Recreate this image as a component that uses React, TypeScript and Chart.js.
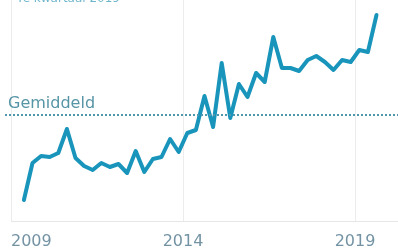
import React, { useEffect, useRef } from "react";
import { Chart, registerables } from "chart.js";

Chart.register(...registerables);

// Quarterly series, 2009 K2 .. 2019 K3
const quarters: string[] = [
  "2009 K2", "2009 K3", "2009 K4",
  "2010 K1", "2010 K2", "2010 K3", "2010 K4",
  "2011 K1", "2011 K2", "2011 K3", "2011 K4",
  "2012 K1", "2012 K2", "2012 K3", "2012 K4",
  "2013 K1", "2013 K2", "2013 K3", "2013 K4",
  "2014 K1", "2014 K2", "2014 K3", "2014 K4",
  "2015 K1", "2015 K2", "2015 K3", "2015 K4",
  "2016 K1", "2016 K2", "2016 K3", "2016 K4",
  "2017 K1", "2017 K2", "2017 K3", "2017 K4",
  "2018 K1", "2018 K2", "2018 K3", "2018 K4",
  "2019 K1", "2019 K2", "2019 K3",
];

const values: number[] = [
  10.5, 29, 32.5, 32, 34, 46, 31.5, 27.5, 25.5, 29, 27, 28.5, 24, 35, 24.5,
  31, 32, 41, 34.5, 44, 45.5, 62.5, 47, 79, 51.5, 68.5, 62, 74, 69.5, 92,
  76.5, 76.5, 75, 80.5, 82.5, 79.5, 75.5, 80.5, 79.5, 85.5, 84.5, 103,
];

const average = 53;
const averageLabel = "Gemiddeld";
const topTitle = "4e kwartaal 2019";
const yearTicks: number[] = [2009, 2014, 2019];
const xMin = 2009;
const xMax = 2020.25;
const yMin = 0;
const yMax = 110.5;

function quarterToX(q: string): number {
  const [y, k] = q.split(" K");
  return Number(y) + (Number(k) - 1) / 4 + 0.125;
}

export default function App() {
  const ref = useRef<HTMLCanvasElement | null>(null);

  useEffect(() => {
    if (!ref.current) return;
    const points = quarters.map((q, i) => ({ x: quarterToX(q), y: values[i] }));

    const overlay = {
      id: "overlay",
      afterDatasetsDraw(chart: any) {
        const ctx = chart.ctx;
        const ys = chart.scales.y;
        const yPix = ys.getPixelForValue(average);
        ctx.save();
        // dotted average line
        ctx.strokeStyle = "#4f97ad";
        ctx.lineWidth = 2;
        ctx.setLineDash([2, 2]);
        ctx.beginPath();
        ctx.moveTo(5, yPix);
        ctx.lineTo(chart.width, yPix);
        ctx.stroke();
        ctx.setLineDash([]);
        // average label
        ctx.fillStyle = "#5695a6";
        ctx.font = "16px 'DejaVu Sans'";
        ctx.textAlign = "left";
        ctx.textBaseline = "alphabetic";
        ctx.fillText(averageLabel, 8, yPix - 7);
        // clipped title at top
        ctx.fillStyle = "#6fb6cc";
        ctx.font = "12px 'DejaVu Sans'";
        ctx.fillText(topTitle, 15, 1.5);
        ctx.restore();
      },
    };

    const chart = new Chart(ref.current, {
      type: "line",
      data: {
        datasets: [
          {
            data: points,
            borderColor: "#1995bb",
            borderWidth: 4,
            pointRadius: 0,
            pointHoverRadius: 0,
            pointHitRadius: 0,
            pointBorderWidth: 0,
            tension: 0,
            borderJoinStyle: "round",
            borderCapStyle: "round",
            fill: false,
            clip: false,
          },
        ],
      },
      options: {
        animation: false,
        responsive: false,
        layout: { autoPadding: false, padding: { left: 11, right: 0, top: 0, bottom: 0 } },
        plugins: { legend: { display: false }, tooltip: { enabled: false } },
        scales: {
          x: {
            type: "linear",
            min: xMin,
            max: xMax,
            afterBuildTicks: (scale: any) => {
              scale.ticks = [...yearTicks, xMax].map((v) => ({ value: v }));
            },
            afterFit: (scale: any) => {
              scale.height = 31;
              scale.paddingLeft = 0;
              scale.paddingRight = 0;
            },
            ticks: {
              autoSkip: false,
              maxRotation: 0,
              align: "inner",
              padding: 11,
              color: "#7393a4",
              font: { family: "'DejaVu Sans'", size: 16 },
              callback: (v: any) => (yearTicks.includes(v) ? String(v) : ""),
            },
            grid: {
              color: (c: any) =>
                c.tick && yearTicks.includes(c.tick.value) ? "#ececec" : "rgba(0,0,0,0)",
              lineWidth: 1,
              drawTicks: false,
            },
            border: { display: true, color: "#e6e6e6" },
          },
          y: {
            display: false,
            min: yMin,
            max: yMax,
          },
        },
      },
      plugins: [overlay],
    } as any);

    return () => chart.destroy();
  }, []);

  return (
    <div style={{ position: "fixed", left: 0, top: 0, width: 398, height: 252, background: "#fff" }}>
      <canvas ref={ref} width={398} height={252} />
    </div>
  );
}
